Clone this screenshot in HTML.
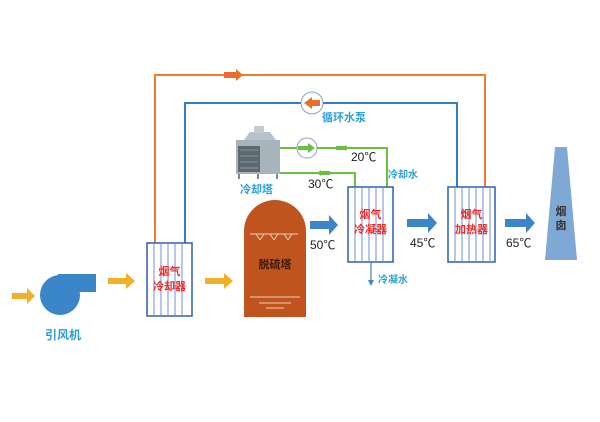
<!DOCTYPE html>
<html><head><meta charset="utf-8">
<style>
html,body{margin:0;padding:0;background:#fff;}
svg{display:block;}
text{font-family:"Liberation Sans","Noto Sans CJK SC",sans-serif;}
.cn{font-family:"Liberation Sans","Noto Sans CJK SC",sans-serif;font-weight:bold;}
</style></head><body>
<svg width="600" height="422" viewBox="0 0 600 422" xmlns="http://www.w3.org/2000/svg">
<!-- orange loop -->
<polyline points="155,243 155,75 485,75 485,187" fill="none" stroke="#f07a30" stroke-width="2"/>
<path d="M224,72 L236,72 L236,69 L243,75 L236,81 L236,78 L224,78 z" fill="#e8702a"/>
<!-- blue loop -->
<polyline points="185,243 185,103 457,103 457,187" fill="none" stroke="#2f7fcf" stroke-width="2"/>
<circle cx="312" cy="103" r="11" fill="#fff" stroke="#8aa0c8" stroke-width="1"/>
<path d="M320,100 L312,100 L312,97 L304,103 L312,109 L312,106 L320,106 z" fill="#e8702a"/>
<text x="322" y="121" font-size="11" fill="#2aa0d8" class="cn">循环水泵</text>
<!-- green lines -->
<polyline points="280,148 387,148 387,187" fill="none" stroke="#6cc040" stroke-width="2"/>
<polyline points="280,173 355,173 355,187" fill="none" stroke="#6cc040" stroke-width="2"/>
<circle cx="307" cy="148" r="10" fill="#fff" stroke="#8aa0c8" stroke-width="1"/>
<path d="M298,146 L308,146 L308,143 L315,148 L308,153 L308,150 L298,150 z" fill="#6cc040"/>
<path d="M336,146 L345,146 L345,145 L349,148 L345,151 L345,150 L336,150 z" fill="#6cc040"/>
<path d="M330,171 L321,171 L321,170 L317,173 L321,176 L321,175 L330,175 z" fill="#6cc040"/>
<text x="351" y="161" font-size="12" fill="#222">20℃</text>
<text x="308" y="188" font-size="12" fill="#222">30℃</text>
<text x="388" y="178" font-size="10" fill="#2aa0d8" class="cn">冷却水</text>
<!-- cooling tower -->
<g>
<rect x="236" y="140" width="44" height="34" fill="#a8b4bc"/>
<rect x="238" y="146" width="22" height="26" fill="#5e6870"/>
<g stroke="#8a949c" stroke-width="1">
<line x1="240" y1="150" x2="258" y2="150"/><line x1="240" y1="156" x2="258" y2="156"/><line x1="240" y1="162" x2="258" y2="162"/><line x1="240" y1="168" x2="258" y2="168"/></g>
<path d="M244,140 L250,132 L270,132 L276,140 z" fill="#b8c2ca"/>
<rect x="254" y="126" width="10" height="7" fill="#c4ccd2"/>
<rect x="238" y="174" width="2" height="5" fill="#888"/><rect x="276" y="174" width="2" height="5" fill="#888"/><rect x="257" y="174" width="2" height="5" fill="#888"/>
</g>
<text x="240" y="193" font-size="11" fill="#2aa0d8" class="cn">冷却塔</text>
<!-- fan -->
<rect x="58" y="274" width="38" height="18" fill="#3a86c8"/>
<circle cx="60" cy="295" r="20" fill="#3a86c8"/>
<text x="45" y="339" font-size="12" fill="#2aa0d8" class="cn">引风机</text>
<!-- orange arrows -->
<path d="M12,293 L27,293 L27,288 L35,296 L27,304 L27,299 L12,299 z" fill="#f2b02a"/>
<path d="M108,278 L126,278 L126,273 L135,281 L126,289 L126,284 L108,284 z" fill="#f2b02a"/>
<path d="M205,278 L224,278 L224,273 L233,281 L224,289 L224,284 L205,284 z" fill="#f2b02a"/>
<!-- cooler -->
<rect x="147" y="243" width="45" height="73" fill="#fff" stroke="#2f5fb0" stroke-width="1.5"/>
<g stroke="#6c8fd0" stroke-width="1">
<line x1="154" y1="243" x2="154" y2="316"/><line x1="161" y1="243" x2="161" y2="316"/><line x1="168" y1="243" x2="168" y2="316"/><line x1="175" y1="243" x2="175" y2="316"/><line x1="182" y1="243" x2="182" y2="316"/></g>
<text x="169.5" y="275" font-size="11" fill="#ee2a2a" class="cn" text-anchor="middle">烟气</text>
<text x="169.5" y="290" font-size="11" fill="#ee2a2a" class="cn" text-anchor="middle">冷却器</text>
<!-- desulfurization tower -->
<path d="M244,317 L244,231 A31,31 0 0 1 306,231 L306,317 z" fill="#c0541e"/>
<g stroke="#f0d0b8" stroke-width="1">
<line x1="250" y1="234" x2="298" y2="234"/>
<line x1="256" y1="234" x2="260" y2="240"/><line x1="264" y1="234" x2="260" y2="240"/>
<line x1="270" y1="234" x2="274" y2="240"/><line x1="278" y1="234" x2="274" y2="240"/>
<line x1="284" y1="234" x2="288" y2="240"/><line x1="292" y1="234" x2="288" y2="240"/>
<line x1="250" y1="297" x2="300" y2="297"/><line x1="259" y1="303" x2="291" y2="303"/><line x1="266" y1="308" x2="284" y2="308"/></g>
<text x="275" y="268" font-size="11" fill="#3a1a0a" class="cn" text-anchor="middle">脱硫塔</text>
<!-- blue arrows -->
<path d="M310,221 L329,221 L329,215 L338,225 L329,235 L329,229 L310,229 z" fill="#3a86c8"/>
<path d="M407,219 L428,219 L428,213 L437,223 L428,233 L428,227 L407,227 z" fill="#3a86c8"/>
<path d="M505,219 L526,219 L526,213 L535,223 L526,233 L526,227 L505,227 z" fill="#3a86c8"/>
<text x="310" y="249" font-size="12" fill="#222">50℃</text>
<text x="410" y="247" font-size="12" fill="#222">45℃</text>
<text x="506" y="247" font-size="12" fill="#222">65℃</text>
<!-- condenser -->
<rect x="348" y="187" width="45" height="75" fill="#fff" stroke="#2f5fb0" stroke-width="1.5"/>
<g stroke="#6c8fd0" stroke-width="1">
<line x1="355" y1="187" x2="355" y2="262"/><line x1="362" y1="187" x2="362" y2="262"/><line x1="369" y1="187" x2="369" y2="262"/><line x1="376" y1="187" x2="376" y2="262"/><line x1="383" y1="187" x2="383" y2="262"/></g>
<text x="370.5" y="218" font-size="11" fill="#ee2a2a" class="cn" text-anchor="middle">烟气</text>
<text x="370.5" y="233" font-size="11" fill="#ee2a2a" class="cn" text-anchor="middle">冷凝器</text>
<line x1="371" y1="262" x2="371" y2="281" stroke="#3a86c8" stroke-width="1.2"/>
<path d="M368,280 L374,280 L371,286 z" fill="#3a86c8"/>
<text x="378" y="283" font-size="10" fill="#2aa0d8" class="cn">冷凝水</text>
<!-- heater -->
<rect x="448" y="187" width="47" height="75" fill="#fff" stroke="#2f5fb0" stroke-width="1.5"/>
<g stroke="#6c8fd0" stroke-width="1">
<line x1="455" y1="187" x2="455" y2="262"/><line x1="462" y1="187" x2="462" y2="262"/><line x1="469" y1="187" x2="469" y2="262"/><line x1="476" y1="187" x2="476" y2="262"/><line x1="483" y1="187" x2="483" y2="262"/><line x1="490" y1="187" x2="490" y2="262"/></g>
<text x="471.5" y="218" font-size="11" fill="#ee2a2a" class="cn" text-anchor="middle">烟气</text>
<text x="471.5" y="233" font-size="11" fill="#ee2a2a" class="cn" text-anchor="middle">加热器</text>
<!-- chimney -->
<path d="M555,147 L567,147 L577,260 L545,260 z" fill="#7fa8d4"/>
<text x="561" y="215" font-size="11" fill="#333" class="cn" text-anchor="middle">烟</text>
<text x="561" y="229" font-size="11" fill="#333" class="cn" text-anchor="middle">囱</text>
</svg>
</body></html>
